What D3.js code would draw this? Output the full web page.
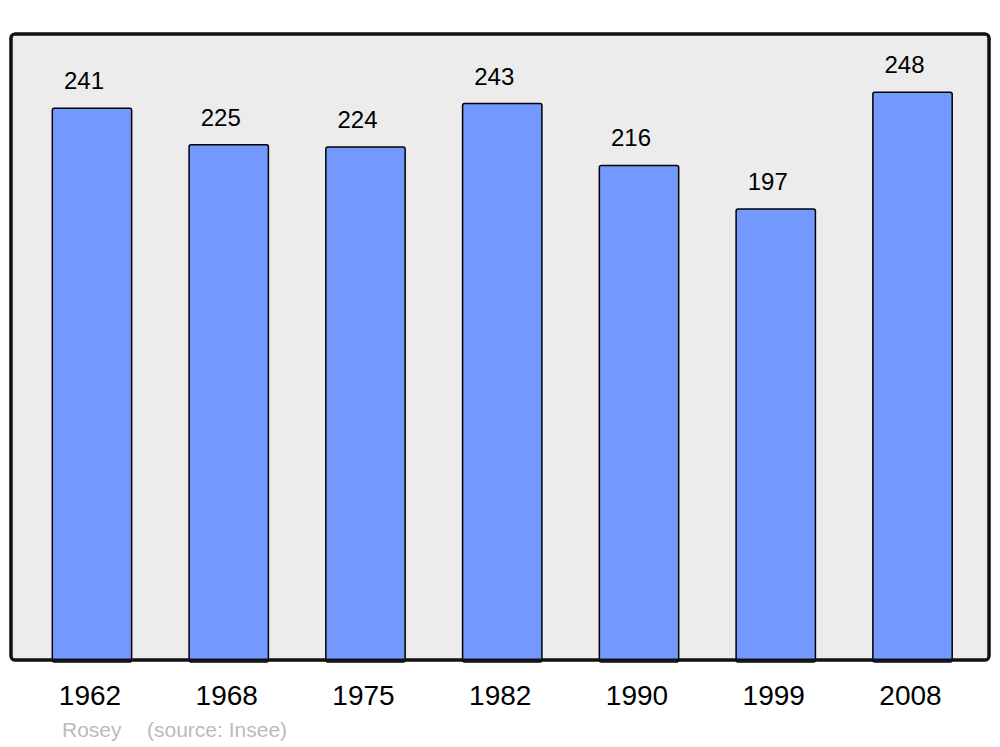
<!DOCTYPE html>
<html>
<head>
<meta charset="utf-8">
<script src="https://cdn.jsdelivr.net/npm/d3@7"></script>
<style>
  body { margin: 0; background: #fff; }
  text { font-family: "Liberation Sans", Arial, sans-serif; }
</style>
</head>
<body>
<div id="chart"></div>
<script>
var years = ["1962", "1968", "1975", "1982", "1990", "1999", "2008"];
var population = [241, 225, 224, 243, 216, 197, 248];
var commune = "Rosey";
var source = "(source: Insee)";

var width = 1000, height = 747;
var panel = { left: 11, top: 34, right: 989, bottom: 660 };

var svg = d3.select("#chart")
    .append("svg")
    .attr("width", width)
    .attr("height", height);

// Background panel
svg.append("rect")
    .attr("x", panel.left)
    .attr("y", panel.top)
    .attr("width", panel.right - panel.left)
    .attr("height", panel.bottom - panel.top)
    .attr("rx", 4)
    .attr("fill", "#ececec")
    .attr("stroke", "#111")
    .attr("stroke-width", 3);

// Scales
var x = d3.scaleBand()
    .domain(years)
    .range([23.6, 980.9])
    .paddingInner(0.42)
    .paddingOuter(0.21);

var y = d3.scaleLinear()
    .domain([0, 273.4])
    .range([panel.bottom, panel.top]);

// Bars
svg.selectAll(".bar")
    .data(population)
    .enter().append("rect")
    .attr("class", "bar")
    .attr("x", function(d, i){ return x(years[i]); })
    .attr("y", function(d){ return y(d); })
    .attr("width", x.bandwidth())
    .attr("height", function(d){ return panel.bottom - y(d) + 2; })
    .attr("rx", 2)
    .attr("fill", "#7399ff")
    .attr("stroke", "#000")
    .attr("stroke-width", 1.5);

// redraw panel border on top of bar bottoms
svg.append("rect")
    .attr("x", panel.left)
    .attr("y", panel.top)
    .attr("width", panel.right - panel.left)
    .attr("height", panel.bottom - panel.top)
    .attr("rx", 4)
    .attr("fill", "none")
    .attr("stroke", "#111")
    .attr("stroke-width", 3);

// Value labels
svg.selectAll(".value")
    .data(population)
    .enter().append("text")
    .attr("class", "value")
    .attr("x", function(d, i){ return x(years[i]) + x.bandwidth() / 2 - 8; })
    .attr("y", function(d){ return y(d) - 19; })
    .attr("font-size", "24px")
    .attr("text-anchor", "middle")
    .attr("fill", "#000")
    .text(function(d){ return d; });

// Year labels
svg.selectAll(".year")
    .data(years)
    .enter().append("text")
    .attr("class", "year")
    .attr("x", function(d){ return x(d) + x.bandwidth() / 2 - 2; })
    .attr("y", 705)
    .attr("font-size", "28px")
    .attr("text-anchor", "middle")
    .attr("fill", "#000")
    .text(function(d){ return d; });

// Footer
svg.append("text")
    .attr("x", 62)
    .attr("y", 737)
    .attr("font-size", "21px")
    .attr("fill", "#bbb")
    .text(commune);
svg.append("text")
    .attr("x", 147)
    .attr("y", 737)
    .attr("font-size", "21px")
    .attr("fill", "#bbb")
    .text(source);
</script>
</body>
</html>
